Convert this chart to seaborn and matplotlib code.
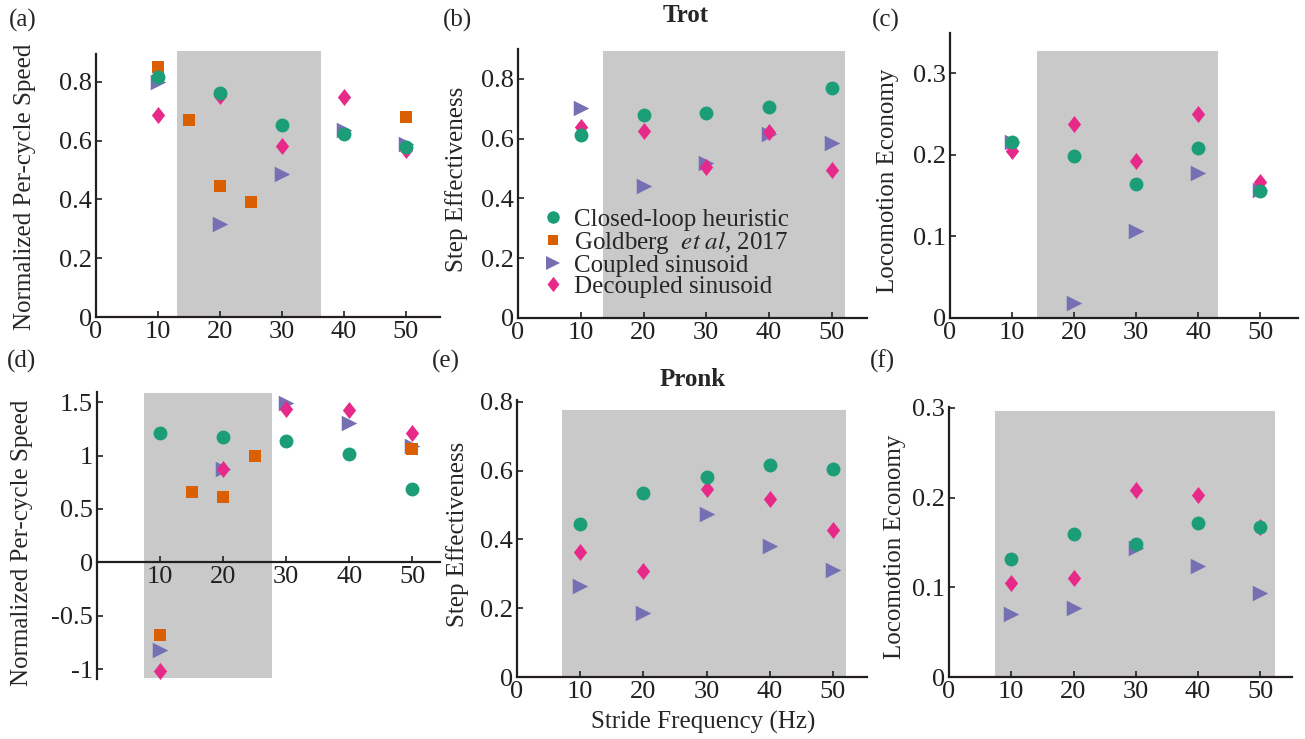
"""
Stride frequency sweep: speed, step effectiveness and economy for trot and pronk
"""
import numpy as np
import pandas as pd
import matplotlib
matplotlib.use('Agg')
import matplotlib.pyplot as plt
import seaborn as sns
from matplotlib.ticker import FuncFormatter

# ---- data ----
freqs = [10, 20, 30, 40, 50]
goldberg_freqs = [10, 15, 20, 25, 50]
methods = ['Closed-loop heuristic', 'Goldberg  $\\it{et\\ al}$, 2017',
           'Coupled sinusoid', 'Decoupled sinusoid']

# trot
trot_speed_closed = [0.816, 0.763, 0.654, 0.622, 0.578]
trot_speed_goldberg = [0.851, 0.670, 0.446, 0.393, 0.681]
trot_speed_coupled = [0.800, 0.318, 0.487, 0.638, 0.590]
trot_speed_decoupled = [0.686, 0.751, 0.581, 0.748, 0.568]

trot_eff_closed = [0.612, 0.680, 0.686, 0.705, 0.770]
trot_eff_coupled = [0.704, 0.442, 0.517, 0.616, 0.587]
trot_eff_decoupled = [0.640, 0.626, 0.506, 0.621, 0.494]

trot_econ_closed = [0.216, 0.198, 0.1645, 0.208, 0.155]
trot_econ_coupled = [0.215, 0.018, 0.106, 0.178, 0.157]
trot_econ_decoupled = [0.204, 0.238, 0.192, 0.250, 0.166]

# pronk
pronk_speed_closed = [1.215, 1.174, 1.134, 1.016, 0.688]
pronk_speed_goldberg = [-0.682, 0.654, 0.614, 0.994, 1.059]
pronk_speed_coupled = [-0.822, 0.878, 1.495, 1.308, 1.093]
pronk_speed_decoupled = [-1.016, 0.875, 1.439, 1.424, 1.209]

pronk_eff_closed = [0.446, 0.535, 0.582, 0.615, 0.604]
pronk_eff_coupled = [0.265, 0.186, 0.473, 0.380, 0.312]
pronk_eff_decoupled = [0.362, 0.308, 0.546, 0.517, 0.427]

pronk_econ_closed = [0.1316, 0.159, 0.1487, 0.1717, 0.1673]
pronk_econ_coupled = [0.0703, 0.0766, 0.1439, 0.1238, 0.094]
pronk_econ_decoupled = [0.1045, 0.1108, 0.2086, 0.2026, 0.1673]

# shaded frequency band per panel: (x0, x1, y0, y1)
shade_a = (13.0, 36.3, 0, 0.905)
shade_b = (13.5, 52.1, 0, 0.894)
shade_c = (14.1, 43.2, 0, 0.3265)
shade_d = (7.46, 27.7, -1.087, 1.589)
shade_e = (7.2, 52.0, 0, 0.776)
shade_f = (7.4, 52.4, 0, 0.297)

palette = {methods[0]: '#1b9e77', methods[1]: '#d95f02',
           methods[2]: '#7570b3', methods[3]: '#e7298a'}
diamond = [(0, 1), (0.78, 0), (0, -1), (-0.78, 0), (0, 1)]
markers = {methods[0]: 'o', methods[1]: 's', methods[2]: '>', methods[3]: diamond}
marker_area = {methods[0]: 100, methods[1]: 72, methods[2]: 125, methods[3]: 150}
draw_order = [methods[2], methods[3], methods[1], methods[0]]

W, H = 1305, 739


def px_rect(l, t, r, b):
    return [l / W, 1 - b / H, (r - l) / W, (b - t) / H]


def make_frame(closed, coupled, decoupled, goldberg=None):
    rows = []
    series = {methods[0]: (freqs, closed), methods[2]: (freqs, coupled),
              methods[3]: (freqs, decoupled)}
    if goldberg is not None:
        series[methods[1]] = (goldberg_freqs, goldberg)
    for m in draw_order:
        if m in series:
            xs, ys = series[m]
            for x, y in zip(xs, ys):
                rows.append({'freq': x, 'value': y, 'method': m})
    return pd.DataFrame(rows)


def draw_panel(ax, df, shade, xlim, ylim, yticks, xticks):
    x0, x1, y0, y1 = shade
    ax.fill_between([x0, x1], y0, y1, color='#c9c9c9', lw=0, zorder=0, clip_on=False)
    for m in draw_order:
        sub = df[df['method'] == m]
        if sub.empty:
            continue
        sns.scatterplot(data=sub, x='freq', y='value', color=palette[m],
                        marker=markers[m], s=marker_area[m], linewidth=0,
                        legend=False, ax=ax, zorder=3)
    ax.set_xlim(*xlim)
    ax.set_ylim(*ylim)
    ax.set_xticks(xticks)
    ax.set_yticks(yticks)
    fmt = FuncFormatter(lambda v, p: f'{v:g}')
    ax.xaxis.set_major_formatter(fmt)
    ax.yaxis.set_major_formatter(fmt)
    ax.set_xlabel('')
    ax.set_ylabel('')
    ax.set_facecolor('none')
    for side in ['top', 'right']:
        ax.spines[side].set_visible(False)
    for side in ['left', 'bottom']:
        ax.spines[side].set_linewidth(1.6)
        ax.spines[side].set_color('#231f20')
    ax.tick_params(direction='in', length=4, width=1.2, labelsize=19, pad=3,
                   colors='#231f20')


sns.set_style('ticks')
plt.rcParams['font.family'] = ['Liberation Serif', 'DejaVu Serif']
plt.rcParams['mathtext.fontset'] = 'stix'

fig = plt.figure(figsize=(W / 100, H / 100), dpi=100)

ax_a = fig.add_axes(px_rect(96, 54, 440, 317))
ax_b = fig.add_axes(px_rect(518, 49, 867, 318))
ax_c = fig.add_axes(px_rect(950, 33, 1298, 318))
ax_d = fig.add_axes(px_rect(97, 392, 440, 679))
ax_e = fig.add_axes(px_rect(517, 400, 867, 677))
ax_f = fig.add_axes(px_rect(949, 407, 1292, 677))

xt = [0, 10, 20, 30, 40, 50]
draw_panel(ax_a, make_frame(trot_speed_closed, trot_speed_coupled, trot_speed_decoupled,
                            trot_speed_goldberg),
           shade_a, (0, 55.5), (0, 0.895), [0, 0.2, 0.4, 0.6, 0.8], xt)
draw_panel(ax_b, make_frame(trot_eff_closed, trot_eff_coupled, trot_eff_decoupled),
           shade_b, (0, 55.6), (0, 0.90), [0, 0.2, 0.4, 0.6, 0.8], xt)
draw_panel(ax_c, make_frame(trot_econ_closed, trot_econ_coupled, trot_econ_decoupled),
           shade_c, (0, 56.1), (0, 0.349), [0, 0.1, 0.2, 0.3], xt)
draw_panel(ax_d, make_frame(pronk_speed_closed, pronk_speed_coupled, pronk_speed_decoupled,
                            pronk_speed_goldberg),
           shade_d, (0, 54.4), (-1.093, 1.595), [-1, -0.5, 0, 0.5, 1, 1.5], xt[1:])
ax_d.spines['bottom'].set_position(('data', 0))
draw_panel(ax_e, make_frame(pronk_eff_closed, pronk_eff_coupled, pronk_eff_decoupled),
           shade_e, (0, 55.4), (0, 0.805), [0, 0.2, 0.4, 0.6, 0.8], xt)
draw_panel(ax_f, make_frame(pronk_econ_closed, pronk_econ_coupled, pronk_econ_decoupled),
           shade_f, (0, 55.1), (0, 0.301), [0, 0.1, 0.2, 0.3], xt)

# legend in panel (b)
handles = [plt.Line2D([], [], ls='', marker=markers[m], color=palette[m],
                      markersize=np.sqrt(marker_area[m]) * 0.9, markeredgewidth=0)
           for m in methods]
ax_b.legend(handles, methods, loc='upper left', bbox_to_anchor=(0.015, 0.455),
            frameon=False, fontsize=18, handletextpad=0.15, labelspacing=-0.06,
            borderpad=0, handlelength=1.4)

# panel letters, titles and axis labels
def ftext(x, y, s, **kw):
    fig.text(x / W, 1 - y / H, s, ha='center', va='center', **kw)

for (x, y), s in zip([(23, 20), (457, 20), (886, 20), (22, 361), (446, 361), (882, 361)],
                     ['(a)', '(b)', '(c)', '(d)', '(e)', '(f)']):
    ftext(x, y, s, fontsize=18)

ftext(686, 16, 'Trot', fontsize=18, fontweight='bold')
ftext(693, 379, 'Pronk', fontsize=18, fontweight='bold')
ftext(703, 722, 'Stride Frequency (Hz)', fontsize=18)

for (x, y), s in zip([(25, 187), (457, 179), (888, 181), (22, 543), (458, 534), (895, 547)],
                     ['Normalized Per-cycle Speed', 'Step Effectiveness', 'Locomotion Economy',
                      'Normalized Per-cycle Speed', 'Step Effectiveness', 'Locomotion Economy']):
    ftext(x, y, s, fontsize=18, rotation=90)

fig.savefig('out.png', dpi=100)
